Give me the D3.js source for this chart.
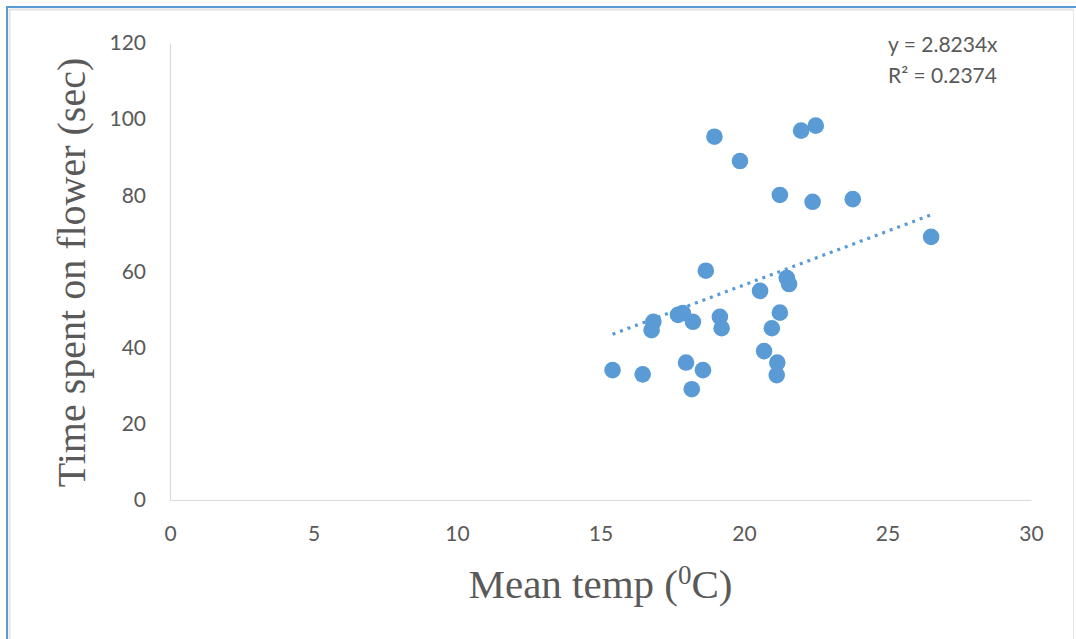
<!DOCTYPE html>
<html>
<head>
<meta charset="utf-8">
<script src="https://cdn.jsdelivr.net/npm/d3@7"></script>
<style>
  html, body { margin: 0; padding: 0; background: #ffffff; }
  svg { display: block; }
</style>
</head>
<body>
<svg id="chart" width="1076" height="639"></svg>
<script>
// ---- data ----
const tempC = [15.42, 16.47, 16.84, 16.78, 17.70, 17.87, 18.22, 19.16, 19.22, 17.98,
               18.57, 18.18, 18.67, 18.97, 19.86, 20.56, 21.49, 21.57, 21.25, 20.97,
               20.70, 21.16, 21.14, 21.25, 21.99, 22.50, 22.39, 23.79, 26.52];
const timeSec = [34.1, 33.0, 46.8, 44.6, 48.6, 49.1, 46.8, 48.1, 45.1, 36.1,
                 34.1, 29.1, 60.2, 95.4, 89.0, 54.9, 58.3, 56.7, 49.2, 45.1,
                 39.1, 36.1, 32.8, 80.1, 97.0, 98.3, 78.3, 79.0, 69.1];
const xTicks = [0, 5, 10, 15, 20, 25, 30];
const yTicks = [0, 20, 40, 60, 80, 100, 120];
const slope = 2.8234;
const equationLines = ["y = 2.8234x", "R² = 0.2374"];
const xTitle = "Mean temp (";
const yTitle = "Time spent on flower (sec)";

// ---- layout ----
const W = 1076, H = 639;
const plot = { left: 170, right: 1031, top: 43, bottom: 500 };
const svg = d3.select("#chart");
const blue = "#5B9BD5";
const textGrey = "#595959";

const x = d3.scaleLinear().domain([0, 30]).range([plot.left, plot.right]);
const y = d3.scaleLinear().domain([0, 120]).range([plot.bottom, plot.top]);

// frame
svg.append("rect").attr("x", 0).attr("y", 0).attr("width", W).attr("height", H).attr("fill", "#fff");
svg.append("line").attr("x1", 10).attr("x2", 1073).attr("y1", 9.5).attr("y2", 9.5).attr("stroke", "#e3e3e3").attr("stroke-width", 2);
svg.append("line").attr("x1", 9.5).attr("x2", 9.5).attr("y1", 9).attr("y2", H).attr("stroke", "#e3e3e3").attr("stroke-width", 2);
svg.append("line").attr("x1", 1073.5).attr("x2", 1073.5).attr("y1", 9).attr("y2", H).attr("stroke", "#e6e6e6").attr("stroke-width", 1);
svg.append("line").attr("x1", 6).attr("x2", W).attr("y1", 7).attr("y2", 7).attr("stroke", blue).attr("stroke-width", 2);
svg.append("line").attr("x1", 7).attr("x2", 7).attr("y1", 6).attr("y2", H).attr("stroke", blue).attr("stroke-width", 2);

// axes
const xAxis = d3.axisBottom(x).tickValues(xTicks).tickSize(0).tickPadding(26);
const yAxis = d3.axisLeft(y).tickValues(yTicks).tickSize(0).tickPadding(24);

const gx = svg.append("g").attr("transform", `translate(0,${plot.bottom})`).call(xAxis);
const gy = svg.append("g").attr("transform", `translate(${plot.left},0)`).call(yAxis);
[gx, gy].forEach(g => {
  g.select(".domain").attr("stroke", "#d9d9d9").attr("stroke-width", 1.2);
  g.selectAll("text").attr("font-family", "Lato, sans-serif").attr("font-size", 21).attr("fill", textGrey);
});

// trendline
const xMin = d3.min(tempC), xMax = d3.max(tempC);
svg.append("line")
  .attr("x1", x(xMin)).attr("y1", y(slope * xMin))
  .attr("x2", x(xMax)).attr("y2", y(slope * xMax))
  .attr("stroke", blue).attr("stroke-width", 3.2)
  .attr("stroke-dasharray", "3 5");

// points
svg.append("g").selectAll("circle").data(tempC.map((t, i) => [t, timeSec[i]]))
  .join("circle")
  .attr("cx", d => x(d[0])).attr("cy", d => y(d[1]))
  .attr("r", 8.3).attr("fill", blue);

// equation
svg.append("g").selectAll("text").data(equationLines).join("text")
  .attr("x", 888).attr("y", (d, i) => 52 + i * 31)
  .attr("font-family", "Lato, sans-serif").attr("font-size", 21).attr("fill", textGrey)
  .text(d => d);

// axis titles
const xt = svg.append("text")
  .attr("x", (plot.left + plot.right) / 2).attr("y", 598)
  .attr("text-anchor", "middle")
  .attr("font-family", "'Liberation Serif', 'Times New Roman', serif").attr("font-size", 41).attr("fill", textGrey);
xt.append("tspan").text(xTitle);
xt.append("tspan").attr("font-size", 27).attr("dy", -14).text("0");
xt.append("tspan").attr("dy", 14).text("C)");

svg.append("text")
  .attr("transform", `translate(85,${(plot.top + plot.bottom) / 2 + 1}) rotate(-90)`)
  .attr("text-anchor", "middle")
  .attr("font-family", "'Liberation Serif', 'Times New Roman', serif").attr("font-size", 40).attr("fill", textGrey)
  .text(yTitle);
</script>
</body>
</html>
